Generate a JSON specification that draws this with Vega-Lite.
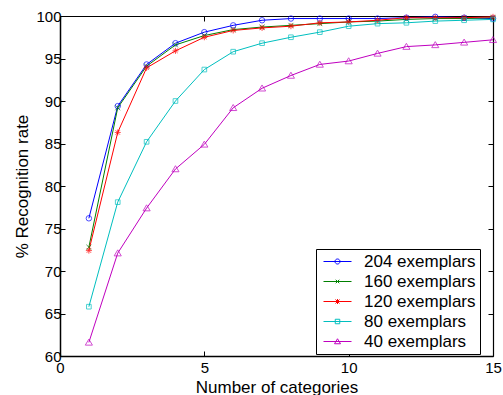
{
  "$schema": "https://vega.github.io/schema/vega-lite/v6.json",
  "width": 433,
  "height": 340,
  "autosize": "none",
  "padding": {"left": 60, "top": 16, "right": 10, "bottom": 39},
  "background": "white",
  "config": {
    "view": {"stroke": null},
    "font": "Liberation Sans",
    "axis": {
      "labelFont": "Liberation Sans", "labelFontSize": 15, "labelColor": "black",
      "titleFont": "Liberation Sans", "titleFontSize": 17, "titleFontWeight": "normal", "titleColor": "black",
      "domainColor": "black", "domainWidth": 1.5, "tickColor": "black", "tickWidth": 1, "tickSize": -5, "grid": false
    },
    "legend": {"labelFont": "Liberation Sans", "labelFontSize": 17, "labelColor": "black", "labelLimit": 300}
  },
  "data": {"values": [
    {"n":1,"rate":76.2,"series":"204 exemplars"},{"n":2,"rate":89.4,"series":"204 exemplars"},{"n":3,"rate":94.3,"series":"204 exemplars"},{"n":4,"rate":96.8,"series":"204 exemplars"},{"n":5,"rate":98.1,"series":"204 exemplars"},{"n":6,"rate":98.9,"series":"204 exemplars"},{"n":7,"rate":99.5,"series":"204 exemplars"},{"n":8,"rate":99.7,"series":"204 exemplars"},{"n":9,"rate":99.7,"series":"204 exemplars"},{"n":10,"rate":99.7,"series":"204 exemplars"},{"n":11,"rate":99.7,"series":"204 exemplars"},{"n":12,"rate":99.8,"series":"204 exemplars"},{"n":13,"rate":99.9,"series":"204 exemplars"},{"n":14,"rate":99.8,"series":"204 exemplars"},{"n":15,"rate":99.7,"series":"204 exemplars"},
    {"n":1,"rate":72.8,"series":"160 exemplars"},{"n":2,"rate":89.2,"series":"160 exemplars"},{"n":3,"rate":94.1,"series":"160 exemplars"},{"n":4,"rate":96.6,"series":"160 exemplars"},{"n":5,"rate":97.7,"series":"160 exemplars"},{"n":6,"rate":98.4,"series":"160 exemplars"},{"n":7,"rate":98.7,"series":"160 exemplars"},{"n":8,"rate":98.9,"series":"160 exemplars"},{"n":9,"rate":99.1,"series":"160 exemplars"},{"n":10,"rate":99.3,"series":"160 exemplars"},{"n":11,"rate":99.4,"series":"160 exemplars"},{"n":12,"rate":99.6,"series":"160 exemplars"},{"n":13,"rate":99.7,"series":"160 exemplars"},{"n":14,"rate":99.7,"series":"160 exemplars"},{"n":15,"rate":99.8,"series":"160 exemplars"},
    {"n":1,"rate":72.4,"series":"120 exemplars"},{"n":2,"rate":86.3,"series":"120 exemplars"},{"n":3,"rate":93.9,"series":"120 exemplars"},{"n":4,"rate":95.9,"series":"120 exemplars"},{"n":5,"rate":97.5,"series":"120 exemplars"},{"n":6,"rate":98.3,"series":"120 exemplars"},{"n":7,"rate":98.6,"series":"120 exemplars"},{"n":8,"rate":98.8,"series":"120 exemplars"},{"n":9,"rate":99.2,"series":"120 exemplars"},{"n":10,"rate":99.3,"series":"120 exemplars"},{"n":11,"rate":99.5,"series":"120 exemplars"},{"n":12,"rate":99.8,"series":"120 exemplars"},{"n":13,"rate":99.8,"series":"120 exemplars"},{"n":14,"rate":99.8,"series":"120 exemplars"},{"n":15,"rate":99.9,"series":"120 exemplars"},
    {"n":1,"rate":65.8,"series":"80 exemplars"},{"n":2,"rate":78.1,"series":"80 exemplars"},{"n":3,"rate":85.2,"series":"80 exemplars"},{"n":4,"rate":90.0,"series":"80 exemplars"},{"n":5,"rate":93.7,"series":"80 exemplars"},{"n":6,"rate":95.8,"series":"80 exemplars"},{"n":7,"rate":96.8,"series":"80 exemplars"},{"n":8,"rate":97.5,"series":"80 exemplars"},{"n":9,"rate":98.1,"series":"80 exemplars"},{"n":10,"rate":98.8,"series":"80 exemplars"},{"n":11,"rate":99.1,"series":"80 exemplars"},{"n":12,"rate":99.2,"series":"80 exemplars"},{"n":13,"rate":99.4,"series":"80 exemplars"},{"n":14,"rate":99.5,"series":"80 exemplars"},{"n":15,"rate":99.6,"series":"80 exemplars"},
    {"n":1,"rate":61.6,"series":"40 exemplars"},{"n":2,"rate":72.1,"series":"40 exemplars"},{"n":3,"rate":77.4,"series":"40 exemplars"},{"n":4,"rate":82.0,"series":"40 exemplars"},{"n":5,"rate":84.9,"series":"40 exemplars"},{"n":6,"rate":89.2,"series":"40 exemplars"},{"n":7,"rate":91.5,"series":"40 exemplars"},{"n":8,"rate":93.0,"series":"40 exemplars"},{"n":9,"rate":94.3,"series":"40 exemplars"},{"n":10,"rate":94.7,"series":"40 exemplars"},{"n":11,"rate":95.6,"series":"40 exemplars"},{"n":12,"rate":96.4,"series":"40 exemplars"},{"n":13,"rate":96.6,"series":"40 exemplars"},{"n":14,"rate":96.9,"series":"40 exemplars"},{"n":15,"rate":97.2,"series":"40 exemplars"}
  ]},
  "layer": [
    {
      "mark": {"type": "line", "strokeWidth": 1},
      "encoding": {
        "x": {"field": "n", "type": "quantitative", "scale": {"domain": [0, 15], "nice": false},
              "axis": {"title": "Number of categories", "values": [0, 5, 10, 15], "labelPadding": 9, "titlePadding": 4, "labelFlush": false}},
        "y": {"field": "rate", "type": "quantitative", "scale": {"domain": [60, 100], "nice": false, "zero": false},
              "axis": {"title": "% Recognition rate", "values": [60, 65, 70, 75, 80, 85, 90, 95, 100], "labelPadding": 4, "titlePadding": 4, "labelFlush": false}},
        "color": {"field": "series", "type": "nominal",
                  "scale": {"domain": ["204 exemplars", "160 exemplars", "120 exemplars", "80 exemplars", "40 exemplars"],
                            "range": ["#0000ff", "#008000", "#ff0000", "#00bfbf", "#bf00bf"]},
                  "legend": {"title": null, "orient": "none", "legendX": 256, "legendY": 233,
                             "strokeColor": "black", "fillColor": "white", "padding": 4, "rowPadding": 2,
                             "symbolSize": 100, "symbolOffset": 9, "labelOffset": 18, "symbolStrokeWidth": 1,
                             "encode": {"symbols": {"update": {
                               "shape": {"signal": "datum.value === '204 exemplars' ? 'M-2.8,0L2.8,0M-0.5,0A0.5,0.5,0,1,0,0.5,0A0.5,0.5,0,1,0,-0.5,0' : datum.value === '160 exemplars' ? 'M-2.8,0L2.8,0M-0.35,-0.35L0.35,0.35M-0.35,0.35L0.35,-0.35' : datum.value === '120 exemplars' ? 'M-2.8,0L2.8,0M0,-0.5L0,0.5M-0.4,-0.4L0.4,0.4M-0.4,0.4L0.4,-0.4' : datum.value === '80 exemplars' ? 'M-2.8,0L2.8,0M-0.45,-0.45L0.45,-0.45L0.45,0.45L-0.45,0.45Z' : 'M-2.8,0L2.8,0M0,-0.55L0.6,0.45L-0.6,0.45Z'"},
                               "size": {"value": 100},
                               "fill": {"value": "transparent"},
                               "strokeWidth": {"value": 1},
                               "opacity": {"value": 1}
                             }}}}}
      }
    },
    {
      "transform": [{"filter": "datum.series === '204 exemplars'"}],
      "mark": {"type": "point", "filled": false, "strokeWidth": 1, "size": 30, "shape": "circle"},
      "encoding": {
        "x": {"field": "n", "type": "quantitative", "axis": {"orient": "top", "labels": false, "title": null, "values": [0, 5, 10, 15], "domainWidth": 1.2}},
        "y": {"field": "rate", "type": "quantitative", "axis": {"orient": "right", "labels": false, "title": null, "values": [60, 65, 70, 75, 80, 85, 90, 95, 100], "domainWidth": 1.2}},
        "color": {"field": "series", "type": "nominal", "legend": null}
      }
    },
    {
      "transform": [{"filter": "datum.series === '160 exemplars'"}],
      "mark": {"type": "point", "filled": false, "strokeWidth": 1, "size": 30, "shape": "M-0.9,-0.9L0.9,0.9M-0.9,0.9L0.9,-0.9"},
      "encoding": {
        "x": {"field": "n", "type": "quantitative", "axis": null},
        "y": {"field": "rate", "type": "quantitative", "axis": null},
        "color": {"field": "series", "type": "nominal", "legend": null}
      }
    },
    {
      "transform": [{"filter": "datum.series === '120 exemplars'"}],
      "mark": {"type": "point", "filled": false, "strokeWidth": 1, "size": 30, "shape": "M-1.1,0L1.1,0M0,-1.1L0,1.1M-0.8,-0.8L0.8,0.8M-0.8,0.8L0.8,-0.8"},
      "encoding": {
        "x": {"field": "n", "type": "quantitative", "axis": null},
        "y": {"field": "rate", "type": "quantitative", "axis": null},
        "color": {"field": "series", "type": "nominal", "legend": null}
      }
    },
    {
      "transform": [{"filter": "datum.series === '80 exemplars'"}],
      "mark": {"type": "point", "filled": false, "strokeWidth": 1, "size": 30, "shape": "M-0.85,-0.85L0.85,-0.85L0.85,0.85L-0.85,0.85Z"},
      "encoding": {
        "x": {"field": "n", "type": "quantitative", "axis": null},
        "y": {"field": "rate", "type": "quantitative", "axis": null},
        "color": {"field": "series", "type": "nominal", "legend": null}
      }
    },
    {
      "transform": [{"filter": "datum.series === '40 exemplars'"}],
      "mark": {"type": "point", "filled": false, "strokeWidth": 1, "size": 30, "shape": "M0,-1.2L1.3,1L-1.3,1Z"},
      "encoding": {
        "x": {"field": "n", "type": "quantitative", "axis": null},
        "y": {"field": "rate", "type": "quantitative", "axis": null},
        "color": {"field": "series", "type": "nominal", "legend": null}
      }
    }
  ],
  "resolve": {"axis": {"x": "independent", "y": "independent"}}
}
